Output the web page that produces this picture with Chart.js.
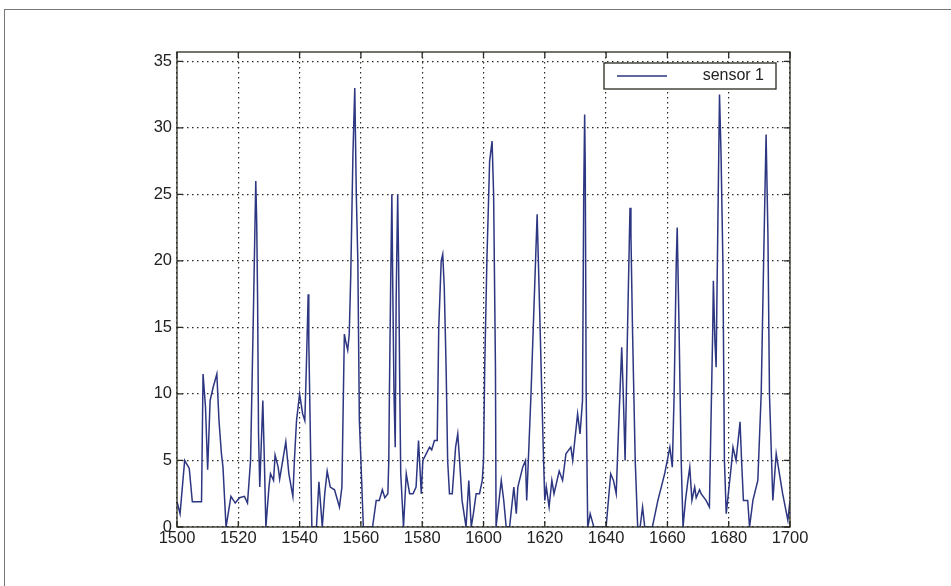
<!DOCTYPE html>
<html>
<head>
<meta charset="utf-8">
<script src="https://cdn.jsdelivr.net/npm/chart.js@4/dist/chart.umd.min.js"></script>
<style>
  html, body { margin: 0; padding: 0; background: #fff; overflow: hidden; }
  #wrap { position: relative; width: 951px; height: 586px; }
  #frame { position: absolute; left: 4px; top: 9px; width: 1000px; height: 700px; border: 1.5px solid #777; }
  canvas { position: absolute; left: 0; top: 0; }
</style>
</head>
<body>
<div id="wrap">
  <div id="frame"></div>
  <canvas id="sensor" width="951" height="586"></canvas>
</div>
<script>
const seriesLabel = 'sensor 1';

// sample positions (x) and readings
const years = [
  1500, 1501, 1502.5, 1503, 1504, 1505, 1508, 1508.5, 1509.3, 1510, 1510.8, 1511.8, 1513, 1513.7, 1514.5, 1515, 1516,
  1517.6, 1519, 1520.4, 1522, 1523, 1524, 1525, 1525.7, 1526, 1526.3, 1526.6, 1527, 1528, 1528.5, 1529,
  1530, 1530.5, 1531.5, 1532, 1533, 1533.5, 1534.5, 1535.5, 1536.5, 1537.8, 1538.3, 1539, 1540, 1541, 1541.7,
  1542.2, 1542.8, 1543, 1544, 1545.5, 1546.3, 1547.4, 1548.2, 1549, 1550, 1551.4, 1553, 1553.8, 1554.6, 1555,
  1555.7, 1556.2, 1556.7, 1557.4, 1558, 1558.5, 1559, 1559.5, 1560, 1560.8, 1563.8, 1565, 1566, 1567, 1567.8,
  1568.8, 1569.1, 1569.3, 1569.7, 1570.1, 1570.4, 1570.8, 1571.2, 1571.5, 1572, 1572.3, 1572.7, 1573, 1573.9,
  1574.8, 1575.9, 1577, 1578, 1578.8, 1579.7, 1580.2, 1581.3, 1582.4, 1583.1, 1584, 1584.9, 1585.4, 1586.2,
  1586.7, 1587.2, 1587.8, 1588.3, 1588.9, 1589.8, 1590.9, 1591.6, 1592.2, 1593, 1594.3, 1595.2, 1596, 1596.7,
  1597.6, 1598.7, 1599.6, 1600, 1600.4, 1601.1, 1602, 1602.8, 1603.3, 1603.9, 1604.1, 1605.8, 1606.6, 1607.4,
  1608.5, 1609.9, 1610.7, 1611.2, 1612.8, 1613.7, 1614.1, 1615.5, 1617.5, 1617.9, 1618.8, 1619.6, 1620, 1620.5,
  1621.4, 1622.3, 1623, 1624.7, 1625.8, 1626.9, 1628.5, 1629.1, 1630.7, 1631.5, 1632.3, 1632.7, 1633, 1633.2,
  1633.5, 1634, 1634.3, 1634.8, 1635.4, 1636, 1640, 1641.5, 1642.4, 1643.3, 1644, 1645.1, 1645.6, 1646.2, 1647,
  1647.8, 1648.1, 1648.6, 1649.5, 1650.3, 1651.1, 1651.9, 1652.6, 1655.1, 1656.9, 1658, 1659.1, 1660.8, 1661.6,
  1662.2, 1662.9, 1663.2, 1663.8, 1664.5, 1665.1, 1665.9, 1666.7, 1667.3, 1668, 1668.9, 1669.4, 1670.5, 1671,
  1672.6, 1673.7, 1674.8, 1675, 1675.5, 1675.9, 1676.2, 1677, 1677.5, 1678.1, 1678.6, 1679.2, 1680.1, 1680.8,
  1681.4, 1682.4, 1683.7, 1684.2, 1684.8, 1686.2, 1686.8, 1687.9, 1689.5, 1690.6, 1691.4, 1691.9, 1692.2, 1692.8,
  1693.3, 1694.4, 1695.5, 1696.2, 1697.6, 1699.3, 1700
];
const readings = [
  1.9, 1.0, 5.0, 4.8, 4.4, 1.9, 1.9, 11.5, 9.0, 4.3, 9.5, 10.5, 11.5, 8.0, 5.5, 4.5, 0,
  2.3, 1.8, 2.2, 2.3, 1.8, 5, 17, 26, 23, 17, 7, 3, 9.5, 5, 0,
  3, 4, 3.5, 5.4, 4.5, 3.6, 5, 6.4, 4, 2.3, 5, 8, 10, 8.5, 8,
  12, 17.5, 14, 0, 0, 3.4, 0, 2.5, 4.2, 3, 2.8, 1.5, 3, 14.5, 14,
  13.3, 14.5, 19, 28, 33, 25, 20, 8, 5, 0, 0, 2, 2, 2.8, 2.2,
  2.5, 5, 10, 18, 25, 18, 10, 6, 17, 25, 20, 10, 4, 0,
  4, 2.5, 2.5, 3, 6.5, 2.5, 5, 5.5, 6, 5.8, 6.5, 6.5, 15, 20,
  20.5, 18, 12, 5, 2.5, 2.5, 6, 7, 5, 2, 0, 3.5, 0, 1,
  2.5, 2.5, 3.5, 5, 12, 20, 27.5, 29, 25, 12, 0, 3.5, 2, 0,
  0, 3, 1, 3, 4.5, 5, 2, 10, 23.5, 20, 12, 5, 2, 3,
  1.5, 3.5, 2.5, 4.2, 3.5, 5.5, 6, 5, 8.5, 7, 9.5, 25, 31, 27,
  10, 0, 0.3, 1, 0.5, 0, 0, 4, 3.5, 2.5, 7, 13.5, 10, 5, 15,
  24, 22, 15, 5, 0, 0, 1.5, 0, 0, 2, 3, 4, 6, 4.5,
  10, 20, 22.5, 15, 5, 0, 2, 3.5, 4.5, 2, 3, 2.2, 2.8, 2.5,
  2, 1.5, 15, 18.5, 14, 12, 18, 32.5, 28, 20, 5, 1, 3, 4.5,
  6, 5, 7.9, 5, 2, 2, 0, 2, 3.5, 10, 20, 26, 29.5, 22,
  10, 2, 5.5, 4.5, 2.5, 0.5, 2
];

const xTicks = [1500, 1520, 1540, 1560, 1580, 1600, 1620, 1640, 1660, 1680, 1700];
const yTicks = [0, 5, 10, 15, 20, 25, 30, 35];

const axisColor = '#2a2a22';
const lineColor = '#2d3681';
const font = { family: '"Liberation Sans", Arial, Helvetica, sans-serif', size: 16.5 };

// box around the axes, MATLAB style inner ticks and the legend
const matlabBox = {
  id: 'matlabBox',
  afterDraw(chart) {
    const { ctx, chartArea: a, scales } = chart;
    ctx.save();
    ctx.strokeStyle = axisColor;
    ctx.lineWidth = 1.3;
    ctx.strokeRect(a.left, a.top, a.right - a.left, a.bottom - a.top);
    ctx.beginPath();
    xTicks.forEach(v => {
      const px = scales.x.getPixelForValue(v);
      ctx.moveTo(px, a.bottom); ctx.lineTo(px, a.bottom - 6);
      ctx.moveTo(px, a.top); ctx.lineTo(px, a.top + 6);
    });
    yTicks.forEach(v => {
      const py = scales.y.getPixelForValue(v);
      ctx.moveTo(a.left, py); ctx.lineTo(a.left + 6, py);
      ctx.moveTo(a.right, py); ctx.lineTo(a.right - 6, py);
    });
    ctx.stroke();

    // legend
    const lx = 604, ly = 63, lw = 172, lh = 26;
    ctx.fillStyle = '#fff';
    ctx.fillRect(lx, ly, lw, lh);
    ctx.strokeRect(lx, ly, lw, lh);
    ctx.strokeStyle = lineColor;
    ctx.lineWidth = 1.4;
    ctx.beginPath();
    ctx.moveTo(617, 76); ctx.lineTo(667, 76);
    ctx.stroke();
    ctx.fillStyle = '#222';
    ctx.font = '16px ' + font.family;
    ctx.textAlign = 'right';
    ctx.textBaseline = 'middle';
    ctx.fillText(chart.data.datasets[0].label, 764, 76);
    ctx.restore();
  }
};

new Chart(document.getElementById('sensor'), {
  type: 'line',
  data: {
    datasets: [{
      label: seriesLabel,
      data: years.map((x, i) => ({ x: x, y: readings[i] })),
      borderColor: lineColor,
      borderWidth: 1.5,
      pointRadius: 0,
      tension: 0,
      fill: false
    }]
  },
  options: {
    responsive: false,
    animation: false,
    layout: { padding: { left: 0, right: 161, top: 52, bottom: 0 } },
    plugins: { legend: { display: false }, tooltip: { enabled: false } },
    scales: {
      x: {
        type: 'linear',
        min: 1500,
        max: 1700,
        afterBuildTicks: axis => { axis.ticks = xTicks.map(v => ({ value: v })); },
        afterFit: axis => { axis.height = 59; },
        ticks: { color: '#222', font: font, padding: 2, maxRotation: 0, autoSkip: false,
                 callback: v => String(v) },
        grid: { color: axisColor, lineWidth: 1.2, drawTicks: false },
        border: { display: false, dash: [1.5, 3.5] }
      },
      y: {
        min: 0,
        max: 35.7,
        afterBuildTicks: axis => { axis.ticks = yTicks.map(v => ({ value: v })); },
        afterFit: axis => { axis.width = 177; },
        ticks: { color: '#222', font: font, padding: 5, callback: v => String(v) },
        grid: { color: axisColor, lineWidth: 1.2, drawTicks: false },
        border: { display: false, dash: [1.5, 3.5] }
      }
    }
  },
  plugins: [matlabBox]
});
</script>
</body>
</html>
